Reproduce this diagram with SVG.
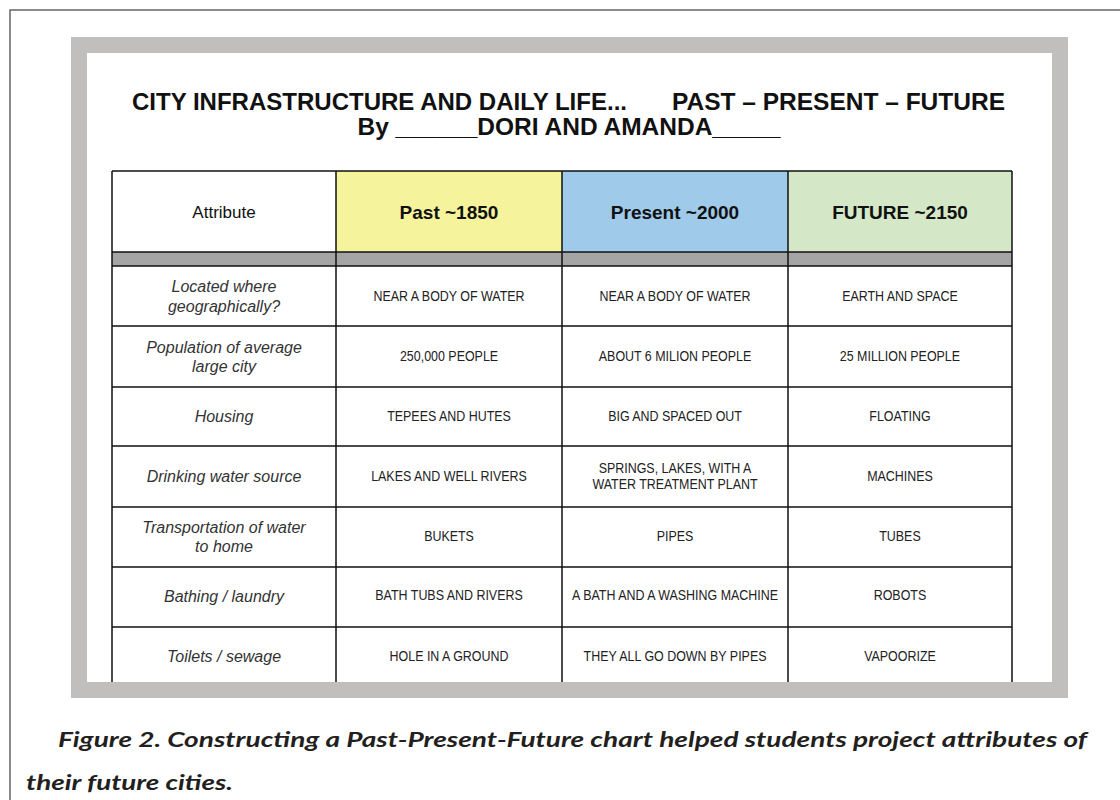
<svg xmlns="http://www.w3.org/2000/svg" width="1120" height="800" viewBox="0 0 1120 800">
<style>
.title{font-family:"Liberation Sans",Arial,sans-serif;font-weight:bold;font-size:24.5px;fill:#111}
.hdr{font-family:"Liberation Sans",Arial,sans-serif;font-weight:bold;font-size:19px;fill:#111;text-anchor:middle}
.hdr0{font-family:"Liberation Sans",Arial,sans-serif;font-size:17px;fill:#111;text-anchor:middle}
.attr{font-family:"Liberation Sans",Arial,sans-serif;font-style:italic;font-size:16px;fill:#333;text-anchor:middle}
.cell{font-family:"Liberation Sans",Arial,sans-serif;font-size:15px;fill:#222;text-anchor:middle}
.cap{font-family:Lato,"Open Sans",sans-serif;font-weight:bold;font-style:italic;font-size:21px;fill:#231f20}
.ln{stroke:#111;stroke-width:1.5;fill:none}
</style>
<rect x="0" y="0" width="1120" height="800" fill="#ffffff"/>
<rect x="10" y="10" width="1200" height="900" fill="none" stroke="#666" stroke-width="1.5"/>
<g id="frame">
<rect x="71" y="37" width="997" height="661" fill="#c0bfbd"/>
<rect x="87" y="53" width="965" height="629" fill="#ffffff"/>
</g>
<g id="title">
<text class="title" x="132" y="110" textLength="495" lengthAdjust="spacingAndGlyphs">CITY INFRASTRUCTURE AND DAILY LIFE...</text>
<text class="title" x="1005" y="110" text-anchor="end">PAST – PRESENT – FUTURE</text>
<text class="title" x="569" y="135" text-anchor="middle">By ______DORI AND AMANDA_____</text>
</g>
<g id="header">
<rect x="336" y="171" width="226" height="81" fill="#f6f39d"/>
<rect x="562" y="171" width="226" height="81" fill="#9fcaea"/>
<rect x="788" y="171" width="224" height="81" fill="#d4e8c8"/>
<rect x="112" y="252" width="900" height="14" fill="#a5a5a5"/>
<text class="hdr0" x="224" y="218">Attribute</text>
<text class="hdr" x="449" y="219">Past ~1850</text>
<text class="hdr" x="675" y="219">Present ~2000</text>
<text class="hdr" x="900" y="219">FUTURE ~2150</text>
</g>
<g id="grid">
<path class="ln" d="M112 171H1012M112 252H1012M112 266H1012M112 326H1012M112 387H1012M112 446H1012M112 507H1012M112 567H1012M112 627H1012"/>
<path class="ln" d="M112 171V682M336 171V682M562 171V682M788 171V682M1012 171V682"/>
</g>
<g id="connectors"></g>
<g id="attributes">
<text class="attr" x="224" y="292">Located where</text>
<text class="attr" x="224" y="312">geographically?</text>
<text class="attr" x="224" y="353">Population of average</text>
<text class="attr" x="224" y="372">large city</text>
<text class="attr" x="224" y="422">Housing</text>
<text class="attr" x="224" y="482">Drinking water source</text>
<text class="attr" x="224" y="533">Transportation of water</text>
<text class="attr" x="224" y="552">to home</text>
<text class="attr" x="224" y="602">Bathing / laundry</text>
<text class="attr" x="224" y="662">Toilets / sewage</text>
</g>
<g id="cells" transform="scale(0.83 1)">
<g id="row-location">
<text class="cell" x="541" y="301.5">NEAR A BODY OF WATER</text>
<text class="cell" x="813.3" y="301.5">NEAR A BODY OF WATER</text>
<text class="cell" x="1084.3" y="301.5">EARTH AND SPACE</text>
</g>
<g id="row-population">
<text class="cell" x="541" y="361.5">250,000 PEOPLE</text>
<text class="cell" x="813.3" y="361.5">ABOUT 6 MILION PEOPLE</text>
<text class="cell" x="1084.3" y="361.5">25 MILLION PEOPLE</text>
</g>
<g id="row-housing">
<text class="cell" x="541" y="421">TEPEES AND HUTES</text>
<text class="cell" x="813.3" y="421">BIG AND SPACED OUT</text>
<text class="cell" x="1084.3" y="421">FLOATING</text>
</g>
<g id="row-drinking">
<text class="cell" x="541" y="481.5">LAKES AND WELL RIVERS</text>
<text class="cell" x="813.3" y="473.5">SPRINGS, LAKES, WITH A</text>
<text class="cell" x="813.3" y="489.5">WATER TREATMENT PLANT</text>
<text class="cell" x="1084.3" y="481.5">MACHINES</text>
</g>
<g id="row-transport">
<text class="cell" x="541" y="541.5">BUKETS</text>
<text class="cell" x="813.3" y="541.5">PIPES</text>
<text class="cell" x="1084.3" y="541.5">TUBES</text>
</g>
<g id="row-bathing">
<text class="cell" x="541" y="600.5">BATH TUBS AND RIVERS</text>
<text class="cell" x="813.3" y="600.5">A BATH AND A WASHING MACHINE</text>
<text class="cell" x="1084.3" y="600.5">ROBOTS</text>
</g>
<g id="row-toilets">
<text class="cell" x="541" y="661.5">HOLE IN A GROUND</text>
<text class="cell" x="813.3" y="661.5">THEY ALL GO DOWN BY PIPES</text>
<text class="cell" x="1084.3" y="661.5">VAPOORIZE</text>
</g>
</g>
<g id="caption">
<text class="cap" x="58" y="747" textLength="1029" lengthAdjust="spacingAndGlyphs">Figure 2. Constructing a Past-Present-Future chart helped students project attributes of</text>
<text class="cap" x="26" y="790" textLength="207" lengthAdjust="spacingAndGlyphs">their future cities.</text>
</g>
</svg>
